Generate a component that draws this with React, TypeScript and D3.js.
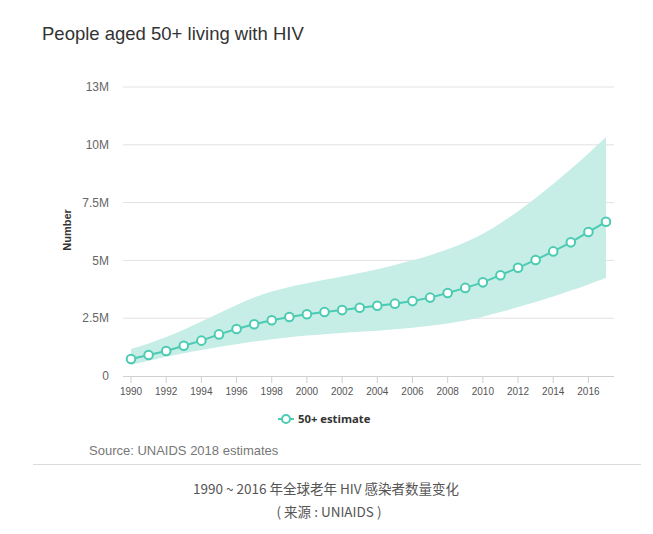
import React from "react";
import * as d3 from "d3";

const years: number[] = d3.range(1990, 2018);
const estimate: number[] = [
  0.735, 0.91, 1.08, 1.31, 1.53, 1.8, 2.03, 2.24, 2.41, 2.55, 2.67, 2.77, 2.85, 2.95,
  3.04, 3.13, 3.24, 3.39, 3.59, 3.81, 4.05, 4.36, 4.68, 5.02, 5.39, 5.78, 6.23, 6.67,
];
const upper: number[] = [
  1.17, 1.4, 1.68, 2.0, 2.35, 2.72, 3.08, 3.4, 3.66, 3.86, 4.02, 4.16, 4.3, 4.45,
  4.62, 4.8, 5.0, 5.22, 5.48, 5.78, 6.14, 6.6, 7.12, 7.7, 8.3, 8.95, 9.62, 10.34,
];
const lower: number[] = [
  0.48, 0.66, 0.83, 0.99, 1.13, 1.26, 1.38, 1.49, 1.59, 1.68, 1.75, 1.81, 1.86, 1.91,
  1.96, 2.02, 2.09, 2.17, 2.27, 2.4, 2.56, 2.76, 2.98, 3.2, 3.44, 3.69, 3.96, 4.24,
];
const yTicks: number[] = [0, 2.5e6, 5e6, 7.5e6, 10e6, 12.5e6];
const xTicks: number[] = d3.range(1990, 2017, 2);

const title = "People aged 50+ living with HIV";
const yLabel = "Number";
const legendLabel = "50+ estimate";
const source = "Source: UNAIDS 2018 estimates";
const caption1 = "1990 ~ 2016 年全球老年 HIV 感染者数量变化";
const caption2 = "( 来源 : UNIAIDS )";

const LINE = "#4ccbb3";
const BAND = "#c6ede6";

export default function App() {
  const W = 653;
  const H = 534;
  const x = d3.scaleLinear().domain([1990, 2017]).range([131, 606]);
  const y = d3.scaleLinear().domain([0, 12.5e6]).range([376, 87]);
  const fmt = d3.format(".2~s");

  const rows = years.map((yr, i) => ({
    yr,
    v: estimate[i] * 1e6,
    lo: lower[i] * 1e6,
    hi: upper[i] * 1e6,
  }));

  const area = d3
    .area<any>()
    .x((d) => x(d.yr))
    .y0((d) => y(d.lo))
    .y1((d) => y(d.hi))
    .curve(d3.curveBasis);
  const line = d3
    .line<any>()
    .x((d) => x(d.yr))
    .y((d) => y(d.v));

  const sans = "'Liberation Sans', Arial, Helvetica, sans-serif";

  return (
    <svg
      width={W}
      height={H}
      style={{ position: "absolute", left: 0, top: 0, background: "#fff" }}
    >
      <rect x={0} y={0} width={W} height={H} fill="#fff" />
      <text x={42} y={40} fontFamily={sans} fontSize={18.5} fill="#333">
        {title}
      </text>

      {yTicks.map((t) => (
        <g key={t}>
          {t > 0 && (
            <line x1={123} x2={614} y1={y(t)} y2={y(t)} stroke="#e2e2e2" strokeWidth={1} />
          )}
          <text
            x={109}
            y={y(t)}
            dy="0.35em"
            textAnchor="end"
            fontFamily={sans}
            fontSize={12}
            fill="#666"
          >
            {fmt(t)}
          </text>
        </g>
      ))}

      <text
        transform={`translate(71,230) rotate(-90)`}
        textAnchor="middle"
        fontFamily={sans}
        fontWeight="bold"
        fontSize={11}
        fill="#333"
      >
        {yLabel}
      </text>

      <path d={area(rows) || ""} fill={BAND} />

      <line x1={123} x2={614} y1={376.5} y2={376.5} stroke="#d0d0d0" strokeWidth={1} />
      {xTicks.map((t) => (
        <g key={t}>
          <line x1={x(t)} x2={x(t)} y1={377} y2={383} stroke="#d0d0d0" strokeWidth={1} />
          <text
            x={x(t)}
            y={395}
            textAnchor="middle"
            fontFamily={sans}
            fontSize={10}
            fill="#555"
          >
            {t}
          </text>
        </g>
      ))}

      <path d={line(rows) || ""} fill="none" stroke={LINE} strokeWidth={2} />
      {rows.map((d) => (
        <circle
          key={d.yr}
          cx={x(d.yr)}
          cy={y(d.v)}
          r={4.3}
          fill="#fff"
          stroke={LINE}
          strokeWidth={2}
        />
      ))}

      <g>
        <line x1={278} x2={294} y1={419} y2={419} stroke={LINE} strokeWidth={2} />
        <circle cx={286} cy={419} r={4} fill="#fff" stroke={LINE} strokeWidth={2} />
        <text
          x={298}
          y={423}
          fontFamily="'Open Sans', 'DejaVu Sans', sans-serif"
          fontWeight="bold"
          fontSize={11.3}
          fill="#333"
        >
          {legendLabel}
        </text>
      </g>

      <text x={89} y={455} fontFamily={sans} fontSize={13} fill="#777">
        {source}
      </text>

      <line x1={33} x2={641} y1={464.5} y2={464.5} stroke="#dcdcdc" strokeWidth={1} />

      <text
        x={326}
        y={494}
        textAnchor="middle"
        fontFamily="'Noto Sans CJK SC', sans-serif"
        fontSize={13.5}
        fill="#555"
      >
        {caption1}
      </text>
      <text
        x={329}
        y={517}
        textAnchor="middle"
        fontFamily="'Noto Sans CJK SC', sans-serif"
        fontSize={13.5}
        fill="#555"
      >
        {caption2}
      </text>
    </svg>
  );
}
